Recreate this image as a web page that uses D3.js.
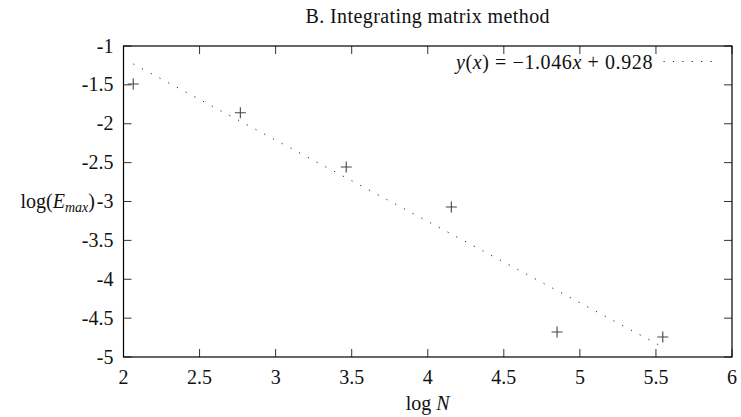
<!DOCTYPE html>
<html>
<head>
<meta charset="utf-8">
<script src="https://cdn.jsdelivr.net/npm/d3@7"></script>
<style>
  body { margin: 0; background: #fff; }
  text { font-family: 'Liberation Serif', 'Times New Roman', serif; fill: #111; }
</style>
</head>
<body>
<div id="chart"></div>
<script>
// data
const logN = [2.064, 2.768, 3.464, 4.155, 4.85, 5.545]
const logEmax = [-1.489, -1.858, -2.556, -3.071, -4.678, -4.743]
const xTicks = [2, 2.5, 3, 3.5, 4, 4.5, 5, 5.5, 6]
const yTicks = [-1, -1.5, -2, -2.5, -3, -3.5, -4, -4.5, -5]
const fitSlope = -1.046
const fitIntercept = 0.928

const margin = { top: 46, left: 123.5, right: 9, bottom: 60 }
const width = 741 - margin.left - margin.right
const height = 417 - margin.top - margin.bottom
const tickLen = 8

const svg = d3
  .select('#chart')
  .append('svg')
  .attr('width', 741)
  .attr('height', 417)

const g = svg
  .append('g')
  .attr('transform', `translate(${margin.left},${margin.top})`)

// scales
const xScale = d3.scaleLinear().domain([2, 6]).range([0, width])
const yScale = d3.scaleLinear().domain([-5, -1]).range([height, 0])

const fmt = d => String(d)

// ticks on all four sides, pointing in
g.selectAll('.xtick-b')
  .data(xTicks)
  .enter()
  .append('line')
  .attr('x1', d => xScale(d))
  .attr('x2', d => xScale(d))
  .attr('y1', height)
  .attr('y2', height - tickLen)
  .attr('stroke', '#333')

g.selectAll('.xtick-t')
  .data(xTicks)
  .enter()
  .append('line')
  .attr('x1', d => xScale(d))
  .attr('x2', d => xScale(d))
  .attr('y1', 0)
  .attr('y2', tickLen)
  .attr('stroke', '#333')

g.selectAll('.ytick-l')
  .data(yTicks)
  .enter()
  .append('line')
  .attr('x1', 0)
  .attr('x2', tickLen)
  .attr('y1', d => yScale(d))
  .attr('y2', d => yScale(d))
  .attr('stroke', '#333')

g.selectAll('.ytick-r')
  .data(yTicks)
  .enter()
  .append('line')
  .attr('x1', width)
  .attr('x2', width - tickLen)
  .attr('y1', d => yScale(d))
  .attr('y2', d => yScale(d))
  .attr('stroke', '#333')

// tick labels
g.selectAll('.xlabel')
  .data(xTicks)
  .enter()
  .append('text')
  .text(fmt)
  .attr('x', d => xScale(d))
  .attr('y', height + 27)
  .attr('text-anchor', 'middle')
  .style('font-size', '20px')

g.selectAll('.ylabel')
  .data(yTicks)
  .enter()
  .append('text')
  .text(fmt)
  .attr('x', -10)
  .attr('y', d => yScale(d) + 6.5)
  .attr('text-anchor', 'end')
  .style('font-size', '20px')

// frame
g.append('rect')
  .attr('width', width)
  .attr('height', height)
  .attr('fill', 'none')
  .attr('stroke', '#000')
  .attr('stroke-width', 1.2)

// fit line (dotted)
const line = d3
  .line()
  .x(d => xScale(d))
  .y(d => yScale(fitSlope * d + fitIntercept))

g.append('path')
  .datum(d3.extent(logN))
  .attr('d', line)
  .attr('fill', 'none')
  .attr('stroke', '#222')
  .attr('stroke-width', 1)
  .attr('stroke-dasharray', '1.2 8.7')

// points as plus signs
const pts = logN.map((x, i) => ({ x: x, y: logEmax[i] }))
const arm = 5.5

g.selectAll('.pt')
  .data(pts)
  .enter()
  .append('path')
  .attr('d', d => {
    const cx = xScale(d.x)
    const cy = yScale(d.y)
    return `M${cx - arm},${cy}H${cx + arm}M${cx},${cy - arm}V${cy + arm}`
  })
  .attr('stroke', '#444')
  .attr('stroke-width', 1.1)
  .attr('fill', 'none')

// key
const key = g.append('text')
  .attr('x', 529.5)
  .attr('y', 23)
  .attr('text-anchor', 'end')
  .style('font-size', '20px')
  .style('letter-spacing', '0.6px')
key.append('tspan').attr('font-style', 'italic').text('y')
key.append('tspan').text('(')
key.append('tspan').attr('font-style', 'italic').text('x')
key.append('tspan').text(') = \u22121.046')
key.append('tspan').attr('font-style', 'italic').text('x')
key.append('tspan').text(' + 0.928')

g.append('line')
  .attr('x1', 540)
  .attr('x2', 592)
  .attr('y1', 15.5)
  .attr('y2', 15.5)
  .attr('stroke', '#222')
  .attr('stroke-dasharray', '1.2 8.2')

// title
svg.append('text')
  .text('B. Integrating matrix method')
  .attr('x', margin.left + width / 2)
  .attr('y', 23)
  .attr('text-anchor', 'middle')
  .style('font-size', '20px')
  .style('letter-spacing', '0.4px')

// axis labels
const xl = svg.append('text')
  .attr('x', margin.left + width / 2)
  .attr('y', 410)
  .attr('text-anchor', 'middle')
  .style('font-size', '20px')
xl.append('tspan').text('log ')
xl.append('tspan').attr('font-style', 'italic').text('N')

const yl = svg.append('text')
  .attr('x', 95)
  .attr('y', margin.top + yScale(-3) + 6.5)
  .attr('text-anchor', 'end')
  .style('font-size', '20px')
yl.append('tspan').text('log(')
yl.append('tspan').attr('font-style', 'italic').text('E')
yl.append('tspan').attr('font-style', 'italic').attr('dy', 4).style('font-size', '14px').text('max')
yl.append('tspan').attr('dy', -4).text(')')
</script>
</body>
</html>
